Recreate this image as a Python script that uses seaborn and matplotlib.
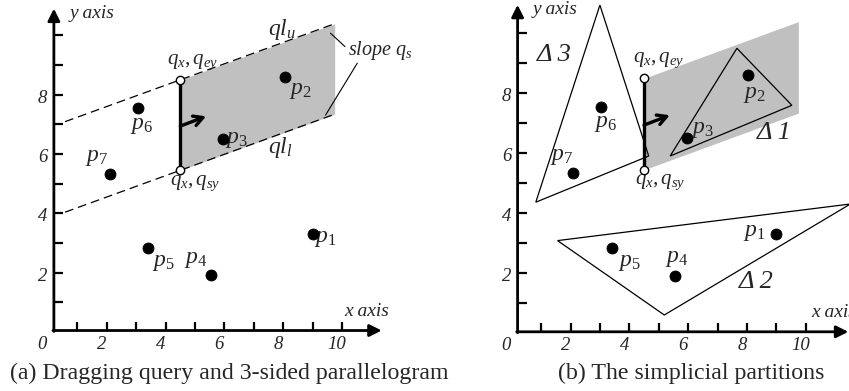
import numpy as np
import matplotlib
matplotlib.use("Agg")
import matplotlib.pyplot as plt
import seaborn as sns
import pandas as pd

sns.set_theme(style="white")
plt.rcParams['font.family'] = ['Liberation Serif', 'DejaVu Serif']
plt.rcParams['mathtext.fontset'] = 'custom'
plt.rcParams['mathtext.rm'] = 'Liberation Serif'
plt.rcParams['mathtext.it'] = 'Liberation Serif:italic'

# ---- data ----
point_names = ["p1", "p2", "p3", "p4", "p5", "p6", "p7"]
point_x = [9.0, 8.05, 5.95, 5.55, 3.4, 3.05, 2.1]
point_y = [3.3, 8.6, 6.5, 1.92, 2.84, 7.55, 5.33]
# label positions for each point (panel a / panel b)
label_a = [(9.44, 3.15), (8.57, 8.15), (6.4, 6.5), (5.01, 2.45), (3.93, 2.33), (3.19, 6.95), (1.66, 5.88)]
label_b = [(8.26, 3.35), (8.26, 7.97), (6.47, 6.8), (5.61, 2.5), (4.0, 2.36), (3.2, 6.99), (1.7, 5.88)]

qx, qey, qsy, qslope = 4.5, 8.5, 5.45, 0.36
dash_left, shade_right = 0.58, 9.75

tick_vals = list(range(1, 11))
tick_labels = ["0", "2", "4", "6", "8", "10"]

tri1 = [(7.66, 9.5), (9.53, 7.6), (5.39, 5.91)]
tri2 = [(11.52, 4.31), (1.56, 3.09), (5.19, 0.61)]
tri3 = [(3.0, 10.94), (0.82, 4.37), (4.66, 5.91)]
tri_labels = [("Δ 1", 8.94, 6.67), ("Δ 2", 8.32, 1.72), ("Δ 3", 1.44, 9.28)]

df = pd.DataFrame({"name": point_names, "x": point_x, "y": point_y})

W, H = 849, 391
fig = plt.figure(figsize=(W / 100, H / 100), dpi=100)


def make_ax(x0px, y0px, sx, sy, xlim, ylim):
    left = x0px + xlim[0] * sx
    width = (xlim[1] - xlim[0]) * sx
    bot = y0px - ylim[0] * sy
    top = y0px - ylim[1] * sy
    ax = fig.add_axes([left / W, (H - bot) / H, width / W, (bot - top) / H])
    ax.set_xlim(*xlim)
    ax.set_ylim(*ylim)
    ax.axis("off")
    return ax


axL = make_ax(48, 332, 29.4, 29.67, (-1.6, 12.4), (-1.4, 11.05))
axR = make_ax(511.7, 333.3, 29.4, 30.0, (-1.6, 11.45), (-1.4, 11.05))

tfont = dict(fontsize=13.5, style="italic")


def draw_axes(ax, xarrow, yarrow):
    ox, oy = 0.2, 0.05
    ax.annotate("", xy=(xarrow, oy), xytext=(ox - 0.03, oy),
                arrowprops=dict(arrowstyle="-|>,head_length=0.6,head_width=0.3", lw=2, color="black",
                                shrinkA=0, shrinkB=0), annotation_clip=False)
    ax.annotate("", xy=(ox, yarrow), xytext=(ox, oy - 0.03),
                arrowprops=dict(arrowstyle="-|>,head_length=0.6,head_width=0.3", lw=2, color="black",
                                shrinkA=0, shrinkB=0), annotation_clip=False)
    ax.vlines(tick_vals, oy, oy + 0.3, color="black", lw=1.6)
    ax.hlines(tick_vals, ox, ox + 0.32, color="black", lw=1.6)
    for i, lab in enumerate(tick_labels):
        v = 2 * i
        ax.text(v - 0.17 if v else -0.2, -0.42, lab, ha="center", va="center", **tfont)
    for lab in tick_labels[1:5]:
        v = int(lab)
        ax.text(-0.02, v - 0.12, lab, ha="right", va="center", **tfont)
    ax.text(xarrow - 0.5, 0.42, "x axis", ha="center", va="bottom", fontsize=14, style="italic",
            clip_on=False)
    ax.text(0.72, yarrow - 0.15, "y axis", ha="left", va="center", fontsize=14, style="italic")


def draw_query(ax):
    xs = np.linspace(qx, shade_right, 50)
    ax.fill_between(xs, qsy + qslope * (xs - qx), qey + qslope * (xs - qx), color="#c0c0c0", lw=0)
    ax.plot([qx, qx], [qsy, qey], color="black", lw=2.4)
    ax.annotate("", xy=(5.38, 7.27), xytext=(qx, 6.94),
                arrowprops=dict(arrowstyle="->,head_length=0.55,head_width=0.3", lw=2.4, color="black",
                                shrinkA=0, shrinkB=0))


pfont = 17
qfont = 15

# ---------------- panel (a) ----------------
draw_axes(axL, 11.35, 10.9)
xd = np.array([dash_left, shade_right])
draw_query(axL)
axL.plot(xd, qey + qslope * (xd - qx), color="black", lw=0.9, ls=(0, (7, 4)))
axL.plot(xd, qsy + qslope * (xd - qx), color="black", lw=0.9, ls=(0, (7, 4)))
axL.plot([qx, qx], [qsy, qey], ls="none", marker="o", ms=6, mfc="white", mec="black", mew=1.0, zorder=5)
sns.scatterplot(data=df, x="x", y="y", ax=axL, color="black", s=62, edgecolor="black", legend=False, zorder=6)
for (lx, ly), n in zip(label_a, point_names):
    axL.text(lx, ly, f"$p_\\mathit{{{n[1:]}}}$", ha="center", va="center", fontsize=pfont)
axL.text(7.97, 10.2, "$ql_u$", ha="center", va="center", fontsize=pfont)
axL.text(7.9, 6.22, "$ql_l$", ha="center", va="center", fontsize=pfont)
axL.text(11.3, 9.5, "slope $q_s$", ha="center", va="center", fontsize=14.5, style="italic")
axL.plot([9.61, 10.1], [10.07, 9.62], color="black", lw=0.8)
axL.plot([10.52, 9.44], [9.06, 7.31], color="black", lw=0.8)
axL.text(4.93, 9.1, "$q_x,q_{ey}$", ha="center", va="center", fontsize=qfont)
axL.text(5.01, 5.02, "$q_x,q_{sy}$", ha="center", va="center", fontsize=qfont)

# ---------------- panel (b) ----------------
draw_axes(axR, 11.45, 10.95)
draw_query(axR)
for tri in (tri1, tri2, tri3):
    axR.add_patch(plt.Polygon(tri, closed=True, fill=False, ec="black", lw=0.9, clip_on=False, zorder=4))
axR.plot([qx, qx], [qsy, qey], ls="none", marker="o", ms=6, mfc="white", mec="black", mew=1.0, zorder=5)
sns.scatterplot(data=df, x="x", y="y", ax=axR, color="black", s=62, edgecolor="black", legend=False, zorder=6)
for (lx, ly), n in zip(label_b, point_names):
    axR.text(lx, ly, f"$p_\\mathit{{{n[1:]}}}$", ha="center", va="center", fontsize=pfont)
for lab, lx, ly in tri_labels:
    axR.text(lx, ly, lab, ha="center", va="center", fontsize=19, style="italic")
axR.text(5.0, 9.1, "$q_x,q_{ey}$", ha="center", va="center", fontsize=qfont)
axR.text(5.05, 5.02, "$q_x,q_{sy}$", ha="center", va="center", fontsize=qfont)

fig.text(229 / W, 1 - 373 / H, "(a) Dragging query and 3-sided parallelogram", ha="center", va="center",
         fontsize=17.2)
fig.text(691 / W, 1 - 373 / H, "(b) The simplicial partitions", ha="center", va="center", fontsize=17.2)

fig.savefig("out.png", dpi=100)
